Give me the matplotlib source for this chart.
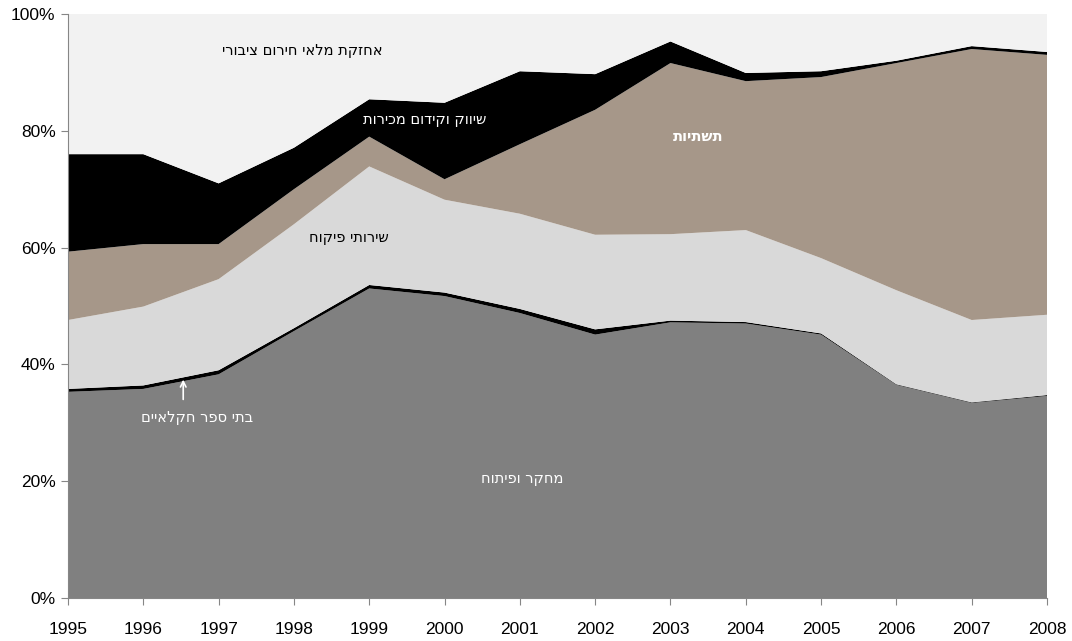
import matplotlib
matplotlib.use("Agg")
import matplotlib.pyplot as plt
import numpy as np

years = [1995, 1996, 1997, 1998, 1999, 2000, 2001, 2002, 2003, 2004, 2005, 2006, 2007, 2008]
rnd = [35.3, 35.8, 38.3, 45.7, 53.0, 51.7, 48.8, 45.1, 47.2, 47.0, 45.1, 36.5, 33.4, 34.6]
schools = [0.5, 0.6, 0.7, 0.5, 0.6, 0.6, 0.7, 0.9, 0.3, 0.25, 0.2, 0.1, 0.1, 0.15]
inspection = [11.8, 13.5, 15.6, 17.8, 20.3, 15.9, 16.3, 16.2, 14.8, 15.75, 12.9, 16.1, 14.1, 13.75]
infrastructure = [11.7, 10.7, 6.0, 6.0, 5.1, 3.5, 11.9, 21.4, 29.3, 25.5, 31.0, 38.9, 46.4, 44.5]
marketing = [16.7, 15.4, 10.4, 7.1, 6.4, 13.1, 12.5, 6.1, 3.7, 1.4, 1.0, 0.4, 0.5, 0.5]
emergency = [24.0, 24.0, 29.0, 22.9, 14.6, 15.2, 9.8, 10.3, 4.7, 10.1, 9.8, 8.0, 5.5, 6.5]

names = ["מחקר ופיתוח", "בתי ספר חקלאיים", "שירותי פיקוח", "תשתיות",
         "שיווק וקידום מכירות", "אחזקת מלאי חירום ציבורי"]
colors = ["#808080", "#000000", "#d9d9d9", "#a69789", "#000000", "#f2f2f2"]

def heb(s):
    return s[::-1]

fig = plt.figure(figsize=(10.72, 6.41), dpi=100)
ax = fig.add_axes([68/1072, 1 - 598/641, (1047-68)/1072, (598-14)/641])

series = [rnd, schools, inspection, infrastructure, marketing, emergency]
arr = np.array(series, dtype=float)
arr = arr / arr.sum(axis=0) * 100
ax.stackplot(years, arr, colors=colors, linewidth=0)

ax.set_xlim(1995, 2008)
ax.set_ylim(0, 100)
ax.set_xticks(years)
ax.set_xticklabels([str(y) for y in years], fontsize=12.5, family="Liberation Sans")
ax.set_yticks([0, 20, 40, 60, 80, 100])
ax.set_yticklabels(["0%", "20%", "40%", "60%", "80%", "100%"], fontsize=12.5, family="Liberation Sans")
ax.tick_params(axis="x", direction="out", length=5, pad=12, color="#868686")
ax.tick_params(axis="y", direction="out", length=5, pad=4, color="#868686")
for s in ["top", "right"]:
    ax.spines[s].set_visible(False)
for s in ["left", "bottom"]:
    ax.spines[s].set_color("#868686")
ax.set_axisbelow(False)

fs = 10.5
ax.text(1998.11, 93.7, heb(names[5]), color="black", fontsize=fs, ha="center", va="center", family="DejaVu Sans")
ax.text(1999.73, 81.9, heb(names[4]), color="white", fontsize=fs, ha="center", va="center", family="DejaVu Sans")
ax.text(2003.37, 79.0, heb(names[3]), color="white", fontsize=fs, ha="center", va="center", family="DejaVu Sans", fontweight="bold")
ax.text(1998.73, 61.7, heb(names[2]), color="black", fontsize=fs, ha="center", va="center", family="DejaVu Sans")
ax.text(1996.71, 30.9, heb(names[1]), color="white", fontsize=fs, ha="center", va="center", family="DejaVu Sans")
ax.text(2001.03, 20.5, heb(names[0]), color="white", fontsize=fs, ha="center", va="center", family="DejaVu Sans")
ax.annotate("", xy=(1996.53, 37.4), xytext=(1996.53, 34.0),
            arrowprops=dict(arrowstyle="->", color="white", lw=1.2, shrinkA=0, shrinkB=0))

fig.savefig("out.png", dpi=100)
